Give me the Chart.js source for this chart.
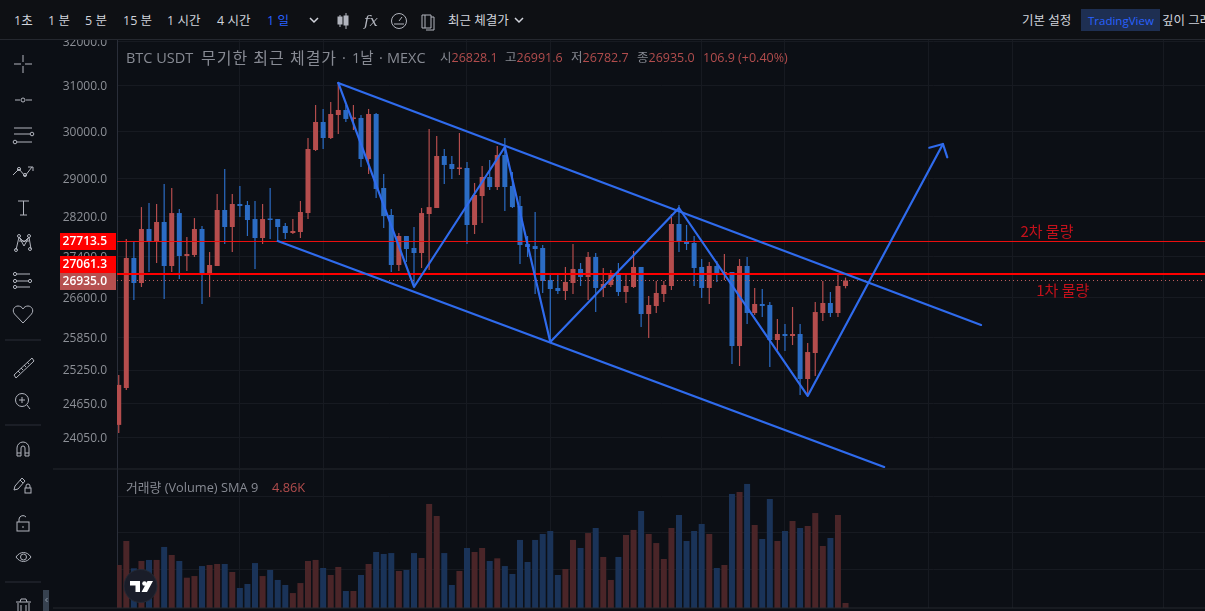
<!DOCTYPE html>
<html lang="ko">
<head>
<meta charset="utf-8">
<title>BTC USDT</title>
<script src="https://cdn.jsdelivr.net/npm/chart.js@4"></script>
<style>
    html, body { margin: 0; padding: 0; background: #0c0f15; overflow: hidden; }
    body { width: 1205px; height: 611px; position: relative; font-family: "Open Sans", "Noto Sans CJK KR", sans-serif; }
    canvas { position: absolute; left: 42px; }
    #price { top: 30px; }
    #volume { top: 469px; }
    .bar { position: absolute; left: 0; top: 0; width: 1205px; height: 39px; background: #0e1014; border-bottom: 1px solid #25282f; z-index: 3; }
    .t { position: absolute; white-space: nowrap; z-index: 4; }
    .top { top: 12px; font-size: 12.5px; line-height: 18px; color: #d1d4dc; }
    .ttl { top: 48px; font-size: 14.5px; line-height: 20px; color: #878a93; }
    .ohlc { top: 49px; font-size: 12.5px; line-height: 18px; }
    .vol { top: 478px; font-size: 12.8px; line-height: 18px; }
    .grey { color: #878a93; }
    .red { color: #b24d4d; }
    .chip { position: absolute; left: 1081px; top: 9px; width: 79px; height: 22px; background: #1e2f52; z-index: 4; }
    #icons { position: absolute; left: 0; top: 0; z-index: 5; }
</style>
</head>
<body>
<canvas id="price" width="1163" height="439"></canvas>
<canvas id="volume" width="1163" height="139"></canvas>

<div class="bar"></div>
<span class="t top" style="left:14px">1초</span>
<span class="t top" style="left:48px">1 분</span>
<span class="t top" style="left:85px">5 분</span>
<span class="t top" style="left:123px">15 분</span>
<span class="t top" style="left:167px">1 시간</span>
<span class="t top" style="left:217px">4 시간</span>
<span class="t top" style="left:267px;color:#2962ff">1 일</span>
<span class="t top" style="left:448px">최근 체결가</span>
<span class="t top" style="left:1022px">기본 설정</span>
<div class="chip"></div>
<span class="t top" style="left:1088px;font-size:11.5px;color:#2962ff">TradingView</span>
<span class="t top" style="left:1162px">깊이 그래프</span>

<span class="t ttl" style="left:126px">BTC USDT</span>
<span class="t ttl" style="left:201px;font-size:16px;letter-spacing:1px">무기한 최근 체결가</span>
<span class="t ttl" style="left:342px">·</span>
<span class="t ttl" style="left:352px">1날</span>
<span class="t ttl" style="left:379px">·</span>
<span class="t ttl" style="left:387px">MEXC</span>
<span class="t ohlc" style="left:440px"><span class="grey">시</span><span class="red">26828.1</span></span>
<span class="t ohlc" style="left:505px"><span class="grey">고</span><span class="red">26991.6</span></span>
<span class="t ohlc" style="left:571px"><span class="grey">저</span><span class="red">26782.7</span></span>
<span class="t ohlc" style="left:637px"><span class="grey">종</span><span class="red">26935.0</span></span>
<span class="t ohlc red" style="left:703px">106.9 (+0.40%)</span>
<span class="t vol grey" style="left:126px">거래량 (Volume) SMA 9</span>
<span class="t vol red" style="left:272px">4.86K</span>

<svg id="icons" width="1205" height="611" fill="none" stroke="#b2b5be" stroke-width="1">
    <!-- top bar -->
    <path d="M310 18l4 4 4-4M515 18l4 4 4-4" stroke="#d1d4dc" stroke-width="1.5"/>
    <path d="M340 15v12M346 13v16" stroke="#b2b5be"/>
    <rect x="338" y="17" width="4" height="7" fill="#b2b5be"/>
    <rect x="344" y="16" width="4" height="9" fill="#b2b5be"/>
    <text x="364" y="26" font-family="DejaVu Serif" font-style="italic" font-size="15" fill="#b2b5be" stroke="none">fx</text>
    <circle cx="399" cy="21" r="7.5"/>
    <path d="M399 21l3-4M394 24h10"/>
    <path d="M422 15h9v13h-9zM425 15v13M431 17h3v13h-8"/>
    <!-- left tools -->
    <path d="M23 55v7M23 66v7M14 64h7M25 64h7"/>
    <path d="M15 100h5M26 100h6"/>
    <circle cx="23" cy="100" r="2"/>
    <path d="M14 128h18M14 134h16M17 142h15M14 136"/>
    <circle cx="32" cy="134" r="1.8"/>
    <circle cx="15" cy="142" r="1.8"/>
    <path d="M13 175l6-6 6 7 7-9M28 167h5v4"/>
    <circle cx="19" cy="169" r="1.6"/><circle cx="25" cy="175" r="1.6"/>
    <path d="M18 201h11M23.500 201v14M20 215h7"/>
    <path d="M16 250l3-13 5 5 5-5 2 12M19 237l5 9 5-9M19 241h10"/>
    <circle cx="16" cy="250" r="1.5"/><circle cx="19" cy="236" r="1.5"/><circle cx="29" cy="236" r="1.5"/><circle cx="30" cy="249" r="1.5"/>
    <path d="M17 274h13M17 281h11M17 287h13"/>
    <circle cx="15" cy="274" r="1.6"/><circle cx="30" cy="281" r="1.6"/><circle cx="15" cy="281" r="1.6"/><circle cx="15" cy="287" r="1.6"/>
    <path d="M23 323l-8.500-9c-3-4 0-8 3.500-8 2 0 4 1 5 3 1-2 3-3 5-3 3.500 0 6.500 4 3.500 8z"/>
    <path d="M14 375l18-17 2 3-18 17zM18 371l2 2M21 368l2 2M24 365l2 2M27 362l2 2"/>
    <circle cx="22" cy="400" r="6.500"/><path d="M22 397v6M19 400h6M27 405l3 4"/>
    <path d="M17 456v-8a6 6 0 0 1 12 0v8h-4v-8a2 2 0 0 0-4 0v8zM17 453h4M25 453h4"/>
    <path d="M15 486l7-8 3 3-7 8-4 1zM20 480l3 3"/>
    <rect x="25" y="488" width="6" height="5"/><path d="M26 488v-2a2 2 0 0 1 4 0v2"/>
    <rect x="17" y="522" width="12" height="9"/><path d="M19 522v-3a4 4 0 0 1 7-2M23 526v2"/>
    <path d="M16 557c4-6 11-6 15 0-4 6-11 6-15 0z"/>
    <circle cx="23.500" cy="557" r="3"/>
    <path d="M18 603v8M29 603v8M16 602h15M20 602l1-3h5l1 3M21 605v6M26 605v6"/>
    <path d="M5 340h36M5 425h36M5 582h36" stroke="#2a2e39"/>
    <path d="M53 469h1152M53 608h1152" stroke="#25282f"/>
    <rect x="43" y="590" width="6" height="21" fill="#36414f" stroke="none"/>
    <path d="M47.500 598l-2 2 2 2" stroke="#8c97a5"/>
    <!-- logo -->
    <circle cx="140.500" cy="586" r="16.500" fill="#1a1d29" stroke="#262a35"/>
    <path d="M130 581h10v11h-4.500v-6.500H130zM147.500 581h5.500L147 592h-5.500z" fill="#fff" stroke="none"/>
    <circle cx="144.500" cy="583.500" r="2.300" fill="#fff" stroke="none"/>
</svg>

<script>
    // ticks of the price pane (log scale)
    const priceTicks = [32000, 31000, 30000, 29000, 28200, 27400, 26600, 25850, 25250, 24650, 24050];
    // month grid of the time axis, in candle numbers
    const timeTicks = [16, 27, 46, 57, 77, 88, 107, 118, 138];
    const volumeTicks = [36.9, 72.8, 107.7];

    // candles
    const opens = [24270, 24925, 27375, 26886, 27954, 27693, 28096, 27218, 28278, 27415,
        27435, 27954, 27081, 27218, 28340, 27995, 28463, 28442, 28156, 27773,
        28156, 28156, 28015, 27874, 27894, 28278, 29594, 30198, 29851, 30351,
        30461, 30264, 30286, 29402, 30373, 28793, 28238, 27238, 27813, 27574,
        27474, 28258, 28381, 29466, 29297, 29191, 29212, 28035, 28627, 29023,
        28814, 29487, 28835, 28422, 27653, 27613, 27574, 26944, 26790, 26732,
        26886, 27160, 27003, 27395, 26790, 26848, 27081, 26712, 26809, 27199,
        26291, 26444, 26674, 26828, 28055, 27713, 27673, 27199, 26790, 27218,
        27042, 27100, 25691, 27218, 26310, 26482, 26463, 25803, 25915, 25878,
        25915, 25087, 25562, 26310, 26501, 26310, 26828.1];
    const highs = [25160, 27753, 27693, 28400, 28483, 28463, 28876, 28793, 28360, 27793,
        28176, 28015, 27494, 28669, 29191, 28669, 28835, 28525, 28525, 28463,
        28793, 28156, 28075, 28156, 28525, 29851, 30571, 30483, 30637, 31060,
        30571, 30571, 30351, 30483, 30395, 29086, 28360, 27874, 27813, 27995,
        28381, 30046, 29894, 29615, 29466, 29959, 29339, 28897, 29254, 29381,
        29679, 29851, 29128, 28627, 27813, 28299, 27633, 27081, 27042, 27199,
        27653, 27277, 27494, 27474, 27179, 27140, 27277, 27061, 27514, 27199,
        26636, 26925, 26925, 28258, 28442, 28035, 27813, 27356, 27297, 27316,
        27455, 27100, 27356, 27395, 26790, 26770, 26520, 26197, 26103, 26425,
        26103, 25747, 26520, 26925, 26712, 27081, 26991.6];
    const lows = [24130, 24889, 26559, 26809, 27100, 27277, 26578, 27100, 26963, 27120,
        27395, 26482, 26616, 27218, 27653, 27494, 28197, 27813, 27160, 27653,
        27753, 27693, 27753, 27854, 27773, 28156, 29573, 29615, 29829, 29938,
        30198, 30024, 29233, 29086, 28586, 27975, 27100, 27120, 27297, 26809,
        27179, 27140, 28381, 28876, 28981, 29065, 27653, 27854, 28075, 28752,
        28752, 28319, 28381, 27257, 27395, 26674, 26693, 25803, 26674, 26559,
        26674, 26828, 26559, 26329, 26616, 26809, 26636, 26501, 26790, 26046,
        25840, 26310, 26520, 26751, 27494, 27534, 26828, 26597, 26482, 26906,
        26944, 25360, 25323, 26103, 26272, 26235, 25305, 25617, 25599, 25710,
        24800, 24782, 25142, 26159, 26235, 26235, 26782.7];
    const closes = [24980, 27375, 26886, 27954, 27693, 28096, 27218, 28278, 27415, 27455,
        27954, 27081, 27238, 28340, 27995, 28463, 28422, 28136, 27773, 28156,
        28136, 27995, 27874, 27914, 28299, 29615, 30198, 29851, 30373, 30461,
        30264, 30286, 29402, 30373, 28773, 28217, 27238, 27813, 27554, 27474,
        28278, 28400, 29466, 29276, 29191, 29212, 28035, 28648, 29023, 28814,
        29487, 28814, 28400, 27633, 27594, 27554, 26925, 26770, 26732, 26906,
        27160, 27003, 27395, 26790, 26867, 27081, 26712, 26828, 27199, 26291,
        26463, 26693, 26848, 28055, 27693, 27653, 27179, 26790, 27218, 27042,
        27100, 25691, 27218, 26310, 26482, 26444, 25803, 25915, 25878, 25915,
        25087, 25580, 26329, 26501, 26310, 26828, 26935.0];
    // volume in thousands
    const volumes = [41.7, 65.0, 38.5, 45.6, 46.6, 46.6, 59.2, 51.4, 45.6, 29.4,
        31.0, 40.7, 41.7, 42.7, 42.7, 34.9, 19.4, 23.3, 43.6, 31.0,
        36.9, 27.2, 22.3, 14.5, 24.2, 45.6, 46.6, 38.8, 32.0, 39.8,
        16.5, 16.5, 32.0, 42.7, 54.3, 52.4, 53.3, 35.9, 36.9, 53.3,
        48.5, 100.9, 89.2, 53.3, 22.3, 35.9, 58.2, 54.3, 58.2, 45.6,
        48.2, 40.7, 33.0, 66.0, 44.6, 66.0, 71.8, 74.7, 32.0, 37.8,
        66.0, 58.2, 72.7, 77.6, 49.5, 27.2, 49.5, 70.8, 75.7, 94.1,
        71.8, 63.0, 47.5, 77.6, 90.2, 65.0, 74.7, 81.5, 71.8, 38.8,
        41.7, 110.6, 112.5, 120.3, 80.5, 66.9, 105.7, 65.0, 74.7, 84.4,
        77.6, 79.5, 92.1, 60.1, 67.9, 90.2, 4.86];

    // hand drawn lines: candle number and price
    const zigzagAt = [29, 39, 51, 57, 74, 91, 108.87];
    const zigzagPrice = [31060, 26809, 29658, 25766, 28381, 24782, 29722];
    const arrowAt = [107.06, 108.87, 109.44];
    const arrowPrice = [29643, 29722, 29438];
    const upperAt = [29, 113.9];
    const upperPrice = [31060, 26084];
    const lowerAt = [21, 101.1];
    const lowerPrice = [27713, 23544];

    // price lines and their tags
    const levelValues = [27713.5, 27061.3, 26935.0];
    const noteTexts = ['2차 물량', '1차 물량'];
    const noteAt = [122.6, 124.7];
    const notePrice = [27914, 26751];

    const UP = '#b54d4d', DOWN = '#2b6cc4';
    const UP_VOL = '#4a2528', DOWN_VOL = '#1a3358';
    const LINE = '#2f6bed';
    const GRID = '#171a21';
    const X_MIN = -0.2285, X_MAX = 143.48;

    const candleX = opens.map((_, i) => i);
    const isUp = opens.map((o, i) => closes[i] >= o);
    const pairs = (xs, ys) => xs.map((x, i) => ({x: x, y: ys[i]}));

    function drawnLine(xs, ys) {
        return {
            type: 'line', data: pairs(xs, ys), borderColor: LINE, borderWidth: 2.2,
            pointRadius: 0, tension: 0, order: 0, borderCapStyle: 'round', borderJoinStyle: 'round'
        };
    }

    function levelLine(value, color, width, dash, nudge) {
        return {
            type: 'line', data: pairs([X_MIN, X_MAX], [value, value]), borderColor: color,
            borderWidth: width, borderDash: dash || [], pointRadius: 0, order: 1, nudge: nudge || 0
        };
    }

    function fixAxis(scale) {
        scale.width = 75;
        scale.paddingTop = 0;
        scale.paddingBottom = 0;
    }

    // bar charts turn the x offset on by default, this axis has to stay exact
    const timeAxis = {
        type: 'linear', min: X_MIN, max: X_MAX, offset: false, border: {display: false},
        grid: {color: GRID, drawTicks: false, offset: false},
        ticks: {display: false},
        afterBuildTicks: s => { s.ticks = timeTicks.map(v => ({value: v})); },
        afterFit: s => { s.height = 0; }
    };

    // half pixel shift so a 1px level line stays sharp
    const crispPlugin = {
        id: 'crisp',
        beforeDatasetDraw(chart, args) {
            chart.ctx.save();
            chart.ctx.translate(0, chart.data.datasets[args.index].nudge || 0);
        },
        afterDatasetDraw(chart) {
            chart.ctx.restore();
        }
    };

    // price tags on the axis and the two notes on the chart
    const tagsPlugin = {
        id: 'tags',
        afterDraw(chart) {
            const {ctx, scales, chartArea} = chart;
            const fills = ['#ff0000', '#ff0000', '#b6504f'];
            const shifts = [0.5, -9.5, 1];
            ctx.save();
            ctx.textAlign = 'right';
            ctx.textBaseline = 'middle';
            ctx.font = '600 12px "Open Sans", sans-serif';
            levelValues.forEach((v, i) => {
                const y = scales.y.getPixelForValue(v) + shifts[i];
                ctx.fillStyle = fills[i];
                ctx.fillRect(chartArea.left - 57, y - 8.5, 56, 17);
                ctx.fillStyle = '#ffffff';
                ctx.fillText(v.toFixed(1), chartArea.left - 10, y + 0.5);
            });
            ctx.textAlign = 'center';
            ctx.font = '15px "Noto Sans CJK KR", sans-serif';
            ctx.fillStyle = '#c4111b';
            noteTexts.forEach((text, i) => {
                ctx.fillText(text, scales.x.getPixelForValue(noteAt[i]), scales.y.getPixelForValue(notePrice[i]));
            });
            ctx.restore();
        }
    };

    new Chart(document.getElementById('price'), {
        type: 'bar',
        data: {
            datasets: [
                drawnLine(zigzagAt, zigzagPrice),
                drawnLine(arrowAt, arrowPrice),
                drawnLine(upperAt, upperPrice),
                drawnLine(lowerAt, lowerPrice),
                levelLine(levelValues[0], '#f01010', 1, [], 0.5),
                levelLine(levelValues[1], '#ff0000', 2),
                levelLine(levelValues[2], '#c0605f', 1, [1, 3]),
                {
                    data: pairs(candleX, opens.map((o, i) => [Math.min(o, closes[i]), Math.max(o, closes[i])])),
                    backgroundColor: isUp.map(u => u ? UP : DOWN),
                    barThickness: 5, minBarLength: 1.5, order: 2
                },
                {
                    data: pairs(candleX, lows.map((l, i) => [l, highs[i]])),
                    backgroundColor: isUp.map(u => u ? UP : DOWN),
                    barThickness: 1.2, order: 3
                }
            ]
        },
        plugins: [crispPlugin, tagsPlugin],
        options: {
            responsive: false,
            animation: false,
            devicePixelRatio: 1,
            layout: {padding: {top: 10, bottom: 1, left: 0, right: 0}},
            datasets: {bar: {grouped: false, borderWidth: 0, inflateAmount: 0}},
            plugins: {legend: {display: false}, tooltip: {enabled: false}},
            scales: {
                x: timeAxis,
                y: {
                    type: 'logarithmic', min: 23527, max: 32038, bounds: 'data',
                    border: {color: '#2a2e39'},
                    grid: {color: GRID, drawTicks: false},
                    ticks: {
                        color: '#8d9097', padding: 10, autoSkip: false, labelOffset: 1,
                        font: {size: 12, family: '"Open Sans", sans-serif'},
                        callback: v => Number(v).toFixed(1)
                    },
                    afterBuildTicks: s => { s.ticks = priceTicks.map(v => ({value: v})); },
                    afterFit: fixAxis
                }
            }
        }
    });

    new Chart(document.getElementById('volume'), {
        type: 'bar',
        data: {
            datasets: [{
                data: pairs(candleX, volumes),
                backgroundColor: isUp.map(u => u ? UP_VOL : DOWN_VOL),
                barThickness: 6
            }]
        },
        options: {
            responsive: false,
            animation: false,
            devicePixelRatio: 1,
            layout: {padding: 0},
            datasets: {bar: {borderWidth: 0, inflateAmount: 0}},
            plugins: {legend: {display: false}, tooltip: {enabled: false}},
            scales: {
                x: Object.assign({}, timeAxis),
                y: {
                    min: 0, max: 134.8,
                    border: {color: '#2a2e39'},
                    grid: {color: GRID, drawTicks: false},
                    ticks: {display: false},
                    afterBuildTicks: s => { s.ticks = volumeTicks.map(v => ({value: v})); },
                    afterFit: fixAxis
                }
            }
        }
    });
</script>
</body>
</html>
